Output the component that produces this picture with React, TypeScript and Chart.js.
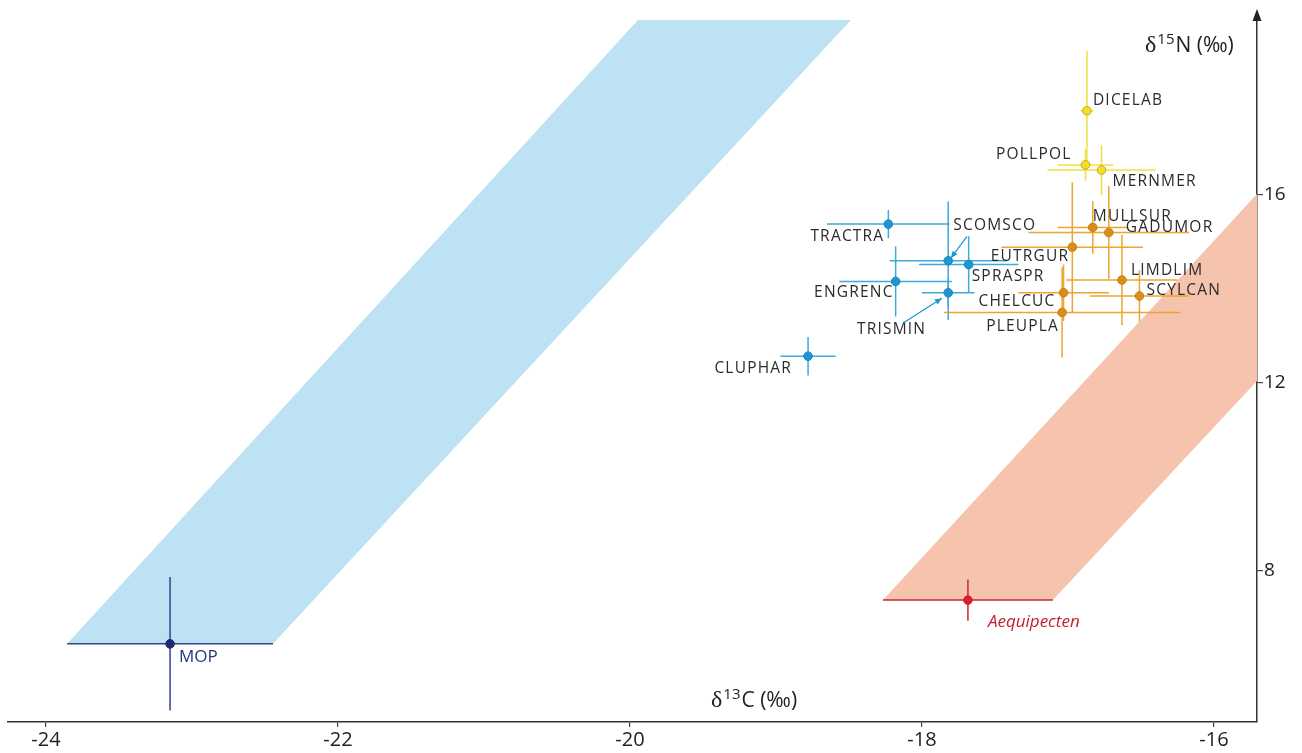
import React, { useEffect, useRef } from "react";
import { Chart, registerables } from "chart.js";

Chart.register(...registerables);

// Axis ticks
const xTicks = [-24, -22, -20, -18, -16];
const yTicks = [8, 12, 16];

// Consumer species (mean ± SD of δ13C and δ15N, ‰)
const speciesCodes = [
  "TRACTRA", "SCOMSCO", "SPRASPR", "ENGRENC", "TRISMIN", "CLUPHAR",
  "DICELAB", "POLLPOL", "MERNMER",
  "MULLSUR", "GADUMOR", "EUTRGUR", "LIMDLIM", "SCYLCAN", "CHELCUC", "PLEUPLA",
];
const speciesGroup = [
  "pelagic", "pelagic", "pelagic", "pelagic", "pelagic", "pelagic",
  "piscivore", "piscivore", "piscivore",
  "demersal", "demersal", "demersal", "demersal", "demersal", "demersal", "demersal",
];
const carbonMean = [
  -18.23, -17.82, -17.68, -18.18, -17.82, -18.78,
  -16.87, -16.88, -16.77,
  -16.83, -16.72, -16.97, -16.63, -16.51, -17.03, -17.04,
];
const carbonSd = [
  0.42, 0.40, 0.34, 0.385, 0.18, 0.19,
  0.045, 0.19, 0.37,
  0.24, 0.55, 0.485, 0.38, 0.34, 0.31, 0.81,
];
const nitrogenMean = [
  15.38, 14.6, 14.52, 14.16, 13.92, 12.57,
  17.79, 16.64, 16.53,
  15.31, 15.2, 14.89, 14.19, 13.85, 13.92, 13.5,
];
const nitrogenSd = [
  0.3, 1.26, 0.6, 0.745, 0.3, 0.41,
  1.28, 0.34, 0.53,
  0.56, 0.99, 1.38, 0.96, 0.55, 0.6, 0.96,
];

// Baselines (mean ± SD)
const baselineNames = ["MOP", "Aequipecten"];
const baselineCarbon = [-23.15, -17.685];
const baselineCarbonSd = [0.705, 0.582];
const baselineNitrogen = [6.45, 7.38];
const baselineNitrogenSd = [1.42, 0.44];

// Trophic enrichment bands projected from each baseline
const pelagicBand = [
  [-23.855, 6.45],
  [-22.445, 6.45],
  [-18.486, 19.72],
  [-19.945, 19.72],
];
const benthicBand = [
  [-18.267, 7.38],
  [-17.103, 7.38],
  [-13.05, 20.89],
  [-14.26, 20.89],
];

const groupColors: Record<string, { point: string; border: string; line: string }> = {
  pelagic: { point: "#1e96cf", border: "#1a88bd", line: "#3faad9" },
  demersal: { point: "#d98e1c", border: "#c47f15", line: "#eda52f" },
  piscivore: { point: "#f4de2c", border: "#c6a912", line: "#eee23e" },
};
const baselineColors: Record<string, { point: string; line: string; text: string }> = {
  MOP: { point: "#1f2a6e", line: "#33458a", text: "#2a3577" },
  Aequipecten: { point: "#d81f2c", line: "#c8283a", text: "#c01f2e" },
};

// Label offsets from each point (px): dx, dy, alignment
const labelPlacement: Record<string, [number, number, CanvasTextAlign]> = {
  TRACTRA: [-4, 12, "right"],
  SCOMSCO: [5, -35, "left"],
  SPRASPR: [3, 12, "left"],
  ENGRENC: [-2, 11, "right"],
  TRISMIN: [-22, 37, "right"],
  CLUPHAR: [-16, 12, "right"],
  DICELAB: [6, -10, "left"],
  POLLPOL: [-14, -10, "right"],
  MERNMER: [11, 12, "left"],
  MULLSUR: [0, -11, "left"],
  GADUMOR: [17, -5, "left"],
  EUTRGUR: [-3, 9, "right"],
  LIMDLIM: [9, -9, "left"],
  SCYLCAN: [7, -5, "left"],
  CHELCUC: [-8, 9, "right"],
  PLEUPLA: [-3, 14, "right"],
  MOP: [9, 13, "left"],
  Aequipecten: [20, 22, "left"],
};

// Pointer arrows from label to point (px, relative to point)
const pointerArrows: Record<string, [number, number, number, number]> = {
  SCOMSCO: [18.7, -24.3, 2.7, -2.7],
  TRISMIN: [-44.7, 30, -6.3, 5.6],
};

const SANS = "'Open Sans', 'Noto Sans', sans-serif";

function drawPolygon(chart: any, pts: number[][], color: string) {
  const { ctx, chartArea, scales } = chart;
  ctx.save();
  ctx.beginPath();
  ctx.rect(chartArea.left, chartArea.top, chartArea.right - chartArea.left, chartArea.bottom - chartArea.top);
  ctx.clip();
  ctx.beginPath();
  pts.forEach(([x, y], i) => {
    const px = scales.x.getPixelForValue(x);
    const py = scales.y.getPixelForValue(y);
    if (i === 0) ctx.moveTo(px, py);
    else ctx.lineTo(px, py);
  });
  ctx.closePath();
  ctx.fillStyle = color;
  ctx.fill();
  ctx.restore();
}

function drawCross(chart: any, x: number, sx: number, y: number, sy: number, color: string) {
  const { ctx, scales } = chart;
  const px = scales.x.getPixelForValue(x);
  const py = scales.y.getPixelForValue(y);
  ctx.save();
  ctx.strokeStyle = color;
  ctx.lineWidth = 1.5;
  ctx.beginPath();
  ctx.moveTo(scales.x.getPixelForValue(x - sx), py);
  ctx.lineTo(scales.x.getPixelForValue(x + sx), py);
  ctx.moveTo(px, scales.y.getPixelForValue(y - sy));
  ctx.lineTo(px, scales.y.getPixelForValue(y + sy));
  ctx.stroke();
  ctx.restore();
}

function drawDeltaTitle(ctx: CanvasRenderingContext2D, x: number, baseline: number, iso: string, element: string) {
  ctx.save();
  ctx.fillStyle = "#222";
  ctx.textAlign = "left";
  ctx.textBaseline = "alphabetic";
  ctx.font = "24px 'Liberation Serif', serif";
  ctx.fillText("δ", x, baseline);
  let cx = x + ctx.measureText("δ").width + 1;
  ctx.font = `15px ${SANS}`;
  ctx.fillText(iso, cx, baseline - 8);
  cx += ctx.measureText(iso).width + 1;
  ctx.font = `21px ${SANS}`;
  ctx.fillText(`${element} (‰)`, cx, baseline);
  ctx.restore();
}

const isotopePlugin = {
  id: "isotopePlot",
  beforeDatasetsDraw(chart: any) {
    drawPolygon(chart, pelagicBand, "#bde2f4");
    drawPolygon(chart, benthicBand, "#f6c3ad");
    baselineNames.forEach((name, i) => {
      drawCross(chart, baselineCarbon[i], baselineCarbonSd[i], baselineNitrogen[i], baselineNitrogenSd[i], baselineColors[name].line);
    });
    speciesCodes.forEach((code, i) => {
      drawCross(chart, carbonMean[i], carbonSd[i], nitrogenMean[i], nitrogenSd[i], groupColors[speciesGroup[i]].line);
    });
  },
  afterDatasetsDraw(chart: any) {
    const { ctx, scales } = chart;
    ctx.save();
    ctx.textBaseline = "middle";
    // species labels
    ctx.font = `15.5px ${SANS}`;
    (ctx as any).letterSpacing = "1.2px";
    ctx.fillStyle = "#2b2b2b";
    speciesCodes.forEach((code, i) => {
      const px = scales.x.getPixelForValue(carbonMean[i]);
      const py = scales.y.getPixelForValue(nitrogenMean[i]);
      const [dx, dy, align] = labelPlacement[code];
      ctx.textAlign = align;
      ctx.fillText(code, px + dx, py + dy);
      const arrow = pointerArrows[code];
      if (arrow) {
        const [x0, y0, x1, y1] = arrow;
        const ax0 = px + x0, ay0 = py + y0, ax1 = px + x1, ay1 = py + y1;
        ctx.strokeStyle = groupColors[speciesGroup[i]].point;
        ctx.fillStyle = groupColors[speciesGroup[i]].point;
        ctx.lineWidth = 1.2;
        ctx.beginPath();
        ctx.moveTo(ax0, ay0);
        ctx.lineTo(ax1, ay1);
        ctx.stroke();
        const ang = Math.atan2(ay1 - ay0, ax1 - ax0);
        const hl = 7, hw = 3;
        ctx.beginPath();
        ctx.moveTo(ax1, ay1);
        ctx.lineTo(ax1 - hl * Math.cos(ang) + hw * Math.sin(ang), ay1 - hl * Math.sin(ang) - hw * Math.cos(ang));
        ctx.lineTo(ax1 - hl * Math.cos(ang) - hw * Math.sin(ang), ay1 - hl * Math.sin(ang) + hw * Math.cos(ang));
        ctx.closePath();
        ctx.fill();
        ctx.fillStyle = "#2b2b2b";
      }
    });
    (ctx as any).letterSpacing = "0px";
    // baseline labels
    baselineNames.forEach((name, i) => {
      const px = scales.x.getPixelForValue(baselineCarbon[i]);
      const py = scales.y.getPixelForValue(baselineNitrogen[i]);
      const [dx, dy, align] = labelPlacement[name];
      ctx.textAlign = align;
      ctx.fillStyle = baselineColors[name].text;
      ctx.font = name === "MOP" ? `17px ${SANS}` : `italic 17px ${SANS}`;
      ctx.fillText(name, px + dx, py + dy);
    });
    ctx.restore();
  },
  afterDraw(chart: any) {
    const { ctx, chartArea } = chart;
    // arrow at the top of the δ15N axis
    const ax = chartArea.right;
    ctx.save();
    ctx.strokeStyle = "#333";
    ctx.fillStyle = "#222";
    ctx.lineWidth = 1.5;
    ctx.beginPath();
    ctx.moveTo(ax, chartArea.top + 2);
    ctx.lineTo(ax, 18);
    ctx.stroke();
    ctx.beginPath();
    ctx.moveTo(ax, 9);
    ctx.lineTo(ax - 4.5, 21);
    ctx.lineTo(ax + 4.5, 21);
    ctx.closePath();
    ctx.fill();
    ctx.restore();
    drawDeltaTitle(ctx, 711, 707, "13", "C");
    drawDeltaTitle(ctx, 1145, 52, "15", "N");
  },
};

export default function App() {
  const canvasRef = useRef<HTMLCanvasElement | null>(null);

  useEffect(() => {
    if (!canvasRef.current) return;
    const groups = ["pelagic", "demersal", "piscivore"];
    const datasets: any[] = groups.map((g) => ({
      label: g,
      data: speciesCodes
        .map((_, i) => i)
        .filter((i) => speciesGroup[i] === g)
        .map((i) => ({ x: carbonMean[i], y: nitrogenMean[i] })),
      pointRadius: 4.3,
      pointBackgroundColor: groupColors[g].point,
      pointBorderColor: groupColors[g].border,
      pointBorderWidth: 1,
    }));
    baselineNames.forEach((name, i) => {
      datasets.push({
        label: name,
        data: [{ x: baselineCarbon[i], y: baselineNitrogen[i] }],
        pointRadius: 4.3,
        pointBackgroundColor: baselineColors[name].point,
        pointBorderColor: baselineColors[name].point,
        pointBorderWidth: 1,
      });
    });

    const chart = new Chart(canvasRef.current, {
      type: "scatter",
      data: { datasets },
      plugins: [isotopePlugin],
      options: {
        animation: false,
        responsive: false,
        devicePixelRatio: 1,
        layout: { padding: { left: 8, top: 14, right: 0, bottom: 0 } },
        plugins: { legend: { display: false }, tooltip: { enabled: false } },
        scales: {
          x: {
            type: "linear",
            position: "bottom",
            min: -24.26,
            max: -15.705,
            afterBuildTicks: (scale: any) => {
              scale.ticks = xTicks.map((v) => ({ value: v }));
            },
            afterFit: (scale: any) => {
              scale.height = 31;
            },
            grid: { display: true, drawOnChartArea: false, drawTicks: true, tickLength: 5, color: "#444", lineWidth: 1.2 },
            border: { display: true, color: "#333", width: 1.5 },
            ticks: {
              color: "#222",
              padding: 1,
              font: { family: SANS, size: 20 },
              callback: (v: any) => String(v),
            },
          },
          y: {
            type: "linear",
            position: "right",
            min: 4.787,
            max: 19.85,
            afterBuildTicks: (scale: any) => {
              scale.ticks = yTicks.map((v) => ({ value: v }));
            },
            afterFit: (scale: any) => {
              scale.width = 45;
            },
            grid: { display: true, drawOnChartArea: false, drawTicks: true, tickLength: 6, color: "#444", lineWidth: 1.2 },
            border: { display: true, color: "#333", width: 1.5 },
            ticks: {
              color: "#222",
              padding: 1,
              font: { family: SANS, size: 19 },
              callback: (v: any) => String(v),
            },
          },
        },
      } as any,
    });
    return () => chart.destroy();
  }, []);

  return (
    <div style={{ position: "fixed", left: 0, top: 0, width: 1302, height: 753, background: "#fff" }}>
      <canvas ref={canvasRef} width={1302} height={753} style={{ display: "block" }} />
    </div>
  );
}
